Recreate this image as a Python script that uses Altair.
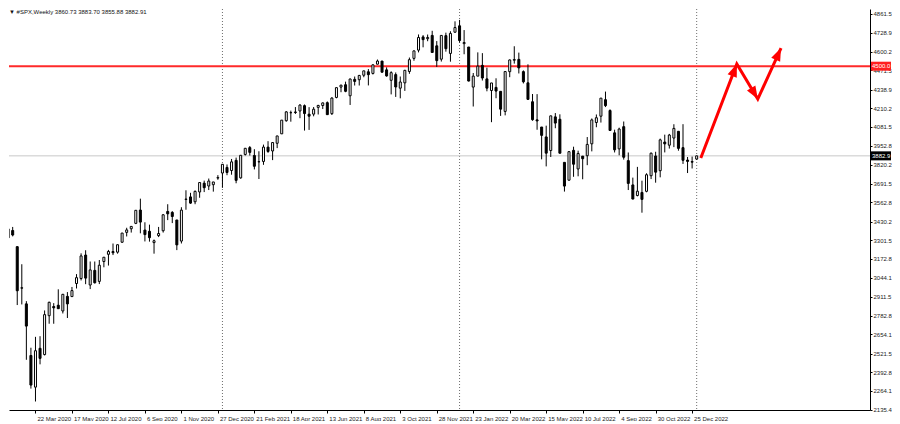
import math
import json
import altair as alt
import pandas as pd

# ---------------- data ----------------
START_WEEK = "2020-02-02"   # first weekly bar (bar index 1; index 0 = 26 Jan 2020)

OPEN = [3328.0, 3318.3, 3369.0, 3257.6, 2974.3, 2863.9, 2508.6, 2290.7, 2558.0, 2514.9,
        2782.5, 2845.6, 2854.6, 2815.0, 2915.5, 2913.9, 3004.1, 3038.8, 3199.9, 2993.8,
        3094.4, 3018.6, 3155.3, 3205.1, 3224.3, 3219.8, 3288.3, 3356.0, 3380.9, 3418.1,
        3509.7, 3371.9, 3363.6, 3285.6, 3333.9, 3367.3, 3500.0, 3493.5, 3441.4, 3296.2,
        3583.0, 3600.2, 3566.8, 3634.2, 3694.7, 3675.3, 3684.3, 3730.0,
        3764.6, 3803.1, 3781.9, 3851.7, 3731.2, 3892.6, 3939.6, 3885.6, 3842.5, 3844.4,
        3942.9, 3916.5, 3969.3, 4034.4, 4124.7, 4179.8, 4185.0, 4191.9, 4228.3, 4169.9,
        4170.2, 4216.5, 4229.3, 4248.9, 4173.4, 4284.9, 4356.5, 4372.4, 4296.4, 4409.6,
        4406.9, 4437.8, 4461.6, 4450.3, 4513.8, 4535.4, 4474.8, 4402.9, 4442.1, 4348.8,
        4385.4, 4463.7, 4553.7, 4610.6, 4701.5, 4689.3, 4712.0, 4640.2, 4548.4, 4710.3,
        4587.9, 4733.9,
        4778.1, 4655.3, 4632.2, 4356.3, 4431.8, 4505.8, 4412.6, 4332.7, 4354.2, 4327.0,
        4188.8, 4462.4, 4541.1, 4547.0, 4462.6, 4385.6, 4255.3, 4130.6, 4081.3, 4013.0,
        3919.4, 4151.1, 4134.7, 3838.1, 3715.3, 3920.8, 3792.6, 3880.9, 3883.8, 3965.7,
        4112.4, 4155.9, 4269.4, 4195.1, 4041.3, 3930.9, 4083.7, 3849.9, 3682.7, 3609.8,
        3630.9, 3638.7, 3746.1, 3881.9, 3780.7, 3977.9, 3956.2, 4005.4, 4052.0, 3939.3,
        3853.8, 3843.3,
        3860.73]
HIGH = [3340.0, 3385.1, 3393.5, 3259.8, 3136.7, 2882.6, 2562.0, 2637.0, 2641.4, 2818.6,
        2879.2, 2869.0, 2964.2, 2932.2, 2945.0, 2980.3, 3068.7, 3211.7, 3233.1, 3155.5,
        3155.5, 3165.8, 3186.0, 3235.3, 3279.3, 3272.0, 3352.0, 3387.9, 3399.5, 3509.0,
        3588.1, 3425.6, 3409.3, 3306.9, 3393.6, 3482.3, 3549.9, 3502.4, 3441.4, 3529.1,
        3645.9, 3628.5, 3644.3, 3699.2, 3712.4, 3726.7, 3703.0, 3750.0,
        3826.7, 3823.6, 3861.5, 3870.9, 3887.6, 3937.2, 3950.4, 3928.6, 3914.5, 3960.3,
        3983.9, 3978.2, 4020.6, 4129.5, 4191.3, 4194.2, 4218.8, 4238.0, 4236.4, 4218.0,
        4218.9, 4234.1, 4249.7, 4257.2, 4286.1, 4355.0, 4371.6, 4393.7, 4415.0, 4429.0,
        4440.0, 4468.0, 4480.3, 4513.0, 4545.9, 4535.4, 4492.0, 4465.0, 4457.0, 4429.0,
        4475.0, 4559.7, 4608.1, 4718.5, 4714.0, 4718.0, 4743.8, 4672.9, 4713.6, 4731.0,
        4740.7, 4808.9,
        4818.6, 4748.8, 4632.2, 4453.2, 4595.3, 4590.0, 4490.0, 4385.0, 4416.8, 4327.0,
        4465.4, 4546.0, 4637.3, 4593.5, 4471.0, 4512.9, 4308.5, 4307.7, 4081.3, 4090.7,
        4158.5, 4177.5, 4168.8, 3838.1, 3913.7, 3945.9, 3918.5, 3880.9, 4012.4, 4140.2,
        4167.7, 4280.5, 4325.3, 4203.0, 4062.9, 4076.8, 4119.3, 3906.0, 3733.0, 3806.9,
        3712.0, 3762.8, 3905.4, 3911.0, 4001.5, 4028.8, 4034.0, 4100.5, 4052.5, 4100.9,
        3875.0, 3878.0,
        3883.70]
LOW = [3322.0, 3315.5, 3328.5, 2855.8, 2860.0, 2478.9, 2280.5, 2191.9, 2447.5, 2508.9,
       2727.1, 2727.1, 2830.0, 2797.9, 2766.6, 2913.9, 2969.8, 3025.2, 2999.5, 2965.7,
       3004.0, 3000.1, 3115.7, 3127.7, 3200.0, 3209.5, 3284.5, 3327.9, 3354.7, 3413.0,
       3349.6, 3293.6, 3292.4, 3209.5, 3323.7, 3354.7, 3440.5, 3419.9, 3233.9, 3279.7,
       3511.9, 3552.8, 3549.9, 3594.4, 3633.4, 3647.5, 3636.5, 3718.0,
       3662.7, 3749.6, 3753.0, 3694.1, 3725.6, 3884.9, 3884.9, 3789.5, 3723.3, 3821.0,
       3903.6, 3853.5, 3936.0, 4034.4, 4118.0, 4118.0, 4171.0, 4142.0, 4056.9, 4061.4,
       4155.0, 4167.6, 4205.0, 4164.0, 4164.0, 4279.0, 4321.0, 4321.0, 4233.1, 4367.0,
       4367.0, 4424.0, 4367.7, 4443.0, 4513.0, 4457.0, 4428.0, 4305.9, 4288.5, 4278.9,
       4329.9, 4447.5, 4537.4, 4595.0, 4630.0, 4672.0, 4594.6, 4495.1, 4532.0, 4600.0,
       4531.1, 4733.0,
       4662.7, 4582.2, 4395.3, 4222.6, 4431.8, 4401.4, 4327.2, 4114.7, 4279.5, 4157.9,
       4161.7, 4424.3, 4517.7, 4450.0, 4381.3, 4267.6, 4124.3, 4062.5, 3858.9, 3810.3,
       3875.1, 4073.0, 3900.2, 3636.9, 3715.3, 3738.7, 3742.1, 3721.6, 3818.6, 3913.7,
       4079.8, 4112.0, 4218.7, 4057.7, 3906.2, 3886.8, 3857.0, 3647.5, 3584.1, 3604.0,
       3491.6, 3632.0, 3723.0, 3698.2, 3735.0, 3906.5, 3933.0, 3942.9, 3918.4, 3827.1,
       3764.5, 3796.0,
       3855.88]
CLOSE = [3332.0, 3380.2, 3337.8, 2954.2, 2972.4, 2711.0, 2304.9, 2541.5, 2488.7, 2789.8,
         2874.6, 2836.7, 2830.7, 2929.8, 2863.7, 2955.5, 3044.3, 3193.9, 3041.3, 3097.7,
         3009.1, 3130.0, 3185.0, 3224.7, 3215.6, 3271.1, 3351.3, 3372.9, 3397.2, 3508.0,
         3426.9, 3340.9, 3319.5, 3298.5, 3348.4, 3477.1, 3483.8, 3465.4, 3270.0, 3509.4,
         3585.2, 3557.5, 3638.4, 3699.1, 3663.5, 3709.4, 3703.1, 3733.0,
         3824.7, 3768.3, 3841.5, 3714.2, 3886.8, 3934.8, 3906.7, 3811.2, 3841.9, 3943.3,
         3913.1, 3974.5, 4019.9, 4128.8, 4185.5, 4180.2, 4181.2, 4232.6, 4173.9, 4155.9,
         4204.1, 4229.9, 4247.4, 4166.5, 4280.7, 4352.3, 4369.6, 4327.2, 4411.8, 4395.3,
         4436.5, 4468.0, 4441.7, 4509.4, 4535.4, 4458.6, 4432.9, 4455.5, 4357.0, 4391.3,
         4471.4, 4544.9, 4605.4, 4697.5, 4682.9, 4697.9, 4594.6, 4538.4, 4712.0, 4620.6,
         4725.8, 4766.2,
         4677.0, 4662.9, 4397.9, 4431.9, 4500.5, 4418.6, 4348.9, 4384.7, 4328.9, 4204.3,
         4463.1, 4543.1, 4545.9, 4488.3, 4392.6, 4271.8, 4131.9, 4123.3, 4023.9, 3901.4,
         4158.2, 4108.5, 3900.9, 3674.8, 3911.7, 3825.3, 3899.4, 3863.2, 3961.6, 4130.3,
         4145.2, 4280.2, 4228.5, 4057.7, 3924.3, 4067.4, 3873.3, 3693.2, 3585.6, 3639.7,
         3583.1, 3752.8, 3901.1, 3770.6, 3992.9, 3965.3, 4026.1, 4071.7, 3934.4, 3852.4,
         3844.8, 3839.5,
         3882.91]

TICK_LABELS = ["26 Jan 2020", "22 Mar 2020", "17 May 2020", "12 Jul 2020", "6 Sep 2020",
               "1 Nov 2020", "27 Dec 2020", "21 Feb 2021", "18 Apr 2021", "13 Jun 2021",
               "8 Aug 2021", "3 Oct 2021", "28 Nov 2021", "23 Jan 2022", "20 Mar 2022",
               "15 May 2022", "10 Jul 2022", "4 Sep 2022", "30 Oct 2022", "25 Dec 2022"]
Y_TICKS = [4861.5, 4728.9, 4600.2, 4471.5, 4338.9, 4210.2, 4081.5, 3952.8, 3820.2,
           3691.5, 3562.8, 3430.2, 3301.5, 3172.8, 3044.1, 2911.5, 2782.8, 2654.1,
           2521.5, 2392.8, 2264.1, 2135.4]

LEVEL_PRICE = 4500.0
LAST_PRICE = 3882.91
HEADER = "\u25bc #SPX,Weekly  3860.73 3883.70 3855.88 3882.91"

# forecast arrow path (bar index, price)
ARROW_WEEK = [153.9, 161.8, 166.4, 171.5]
ARROW_PRICE = [3868.0, 4515.0, 4274.0, 4625.0]

# ---------------- layout ----------------
W, H = 861, 401
PX_PER_WEEK = 4.56
XMIN = 10 / PX_PER_WEEK
XMAX = XMIN + W / PX_PER_WEEK
YMIN, YMAX = 2133.3, 4893.8
PX_PER_PT = H / (YMAX - YMIN)
FONT = "Liberation Sans"
FS = 6.0

# ---------------- frames ----------------
n = len(OPEN)
weeks = pd.date_range(START_WEEK, periods=n, freq="7D")
df = pd.DataFrame({"i": list(range(1, n + 1)), "date": weeks,
                   "o": OPEN, "h": HIGH, "l": LOW, "c": CLOSE})
df["x1"] = df["i"] - 0.22
df["x2"] = df["i"] + 0.22

# year separators: first bar of each new year
firsts = df[(df["date"].dt.month == 1) & (df["date"].dt.day <= 7)][["i"]]

XSC = alt.Scale(domain=[XMIN, XMAX], nice=False, zero=False)
YSC = alt.Scale(domain=[YMIN, YMAX], nice=False, zero=False)

label_expr = json.dumps(TICK_LABELS) + "[round(datum.value / 8)]"
XAX = alt.Axis(values=list(range(8, 153, 8)), labelExpr=label_expr, title=None,
               grid=False, domainColor="black", tickColor="black", tickSize=3,
               labelFontSize=FS, labelFont=FONT, labelColor="#222", labelAlign="left",
               labelOffset=1.5, labelPadding=2, labelOverlap=False, labelFlush=False,
               labelBaseline="top", domainWidth=1)
YAX = alt.Axis(values=Y_TICKS, format=".1f", orient="right", title=None, grid=False,
               domainColor="black", tickColor="black", tickSize=2, labelFontSize=FS,
               labelFont=FONT, labelColor="#222", labelPadding=1, labelOverlap=False,
               labelFlush=False, domainWidth=1)


def X(f):
    return alt.X(f, type="quantitative", scale=XSC, axis=XAX)


def Y(f):
    return alt.Y(f, type="quantitative", scale=YSC, axis=YAX)


base = alt.Chart(df)

separators = alt.Chart(firsts).mark_rule(color="#6e6e6e", strokeDash=[1, 2],
                                         strokeWidth=1).encode(x=X("i"))

hlines_df = pd.DataFrame({"p": [LAST_PRICE]})
last_line = alt.Chart(hlines_df).mark_rule(color="#c8c8c8", strokeWidth=1).encode(y=Y("p"))
level_df = pd.DataFrame({"p": [LEVEL_PRICE]})
level_line = alt.Chart(level_df).mark_rule(color="#ff2a2a", strokeWidth=2).encode(y=Y("p"))

wicks = base.mark_rule(color="black", strokeWidth=1, clip=True).encode(
    x=X("i"), y=Y("l"), y2="h:Q")
bodies = base.mark_rect(stroke="black", strokeWidth=1, clip=True).encode(
    x=X("x1"), x2="x2:Q", y=Y("o"), y2="c:Q",
    fill=alt.condition("datum.c >= datum.o", alt.value("white"), alt.value("black")))

# forecast arrows
arr = pd.DataFrame({"k": range(len(ARROW_WEEK)), "w": ARROW_WEEK, "p": ARROW_PRICE})
arrow_lines = alt.Chart(arr).mark_line(color="#ff0000", strokeWidth=3, strokeCap="butt").encode(
    x=X("w"), y=Y("p"), order="k:Q")
heads = []
for k in range(1, len(ARROW_WEEK)):
    dx = (ARROW_WEEK[k] - ARROW_WEEK[k - 1]) * PX_PER_WEEK
    dy = -(ARROW_PRICE[k] - ARROW_PRICE[k - 1]) * PX_PER_PT
    ang = math.degrees(math.atan2(dx, -dy)) % 360
    heads.append({"w": ARROW_WEEK[k], "p": ARROW_PRICE[k], "ang": ang})
heads_df = pd.DataFrame(heads)
arrow_heads = alt.Chart(heads_df).mark_point(
    shape="M0,0 L-0.8,2.1 L0.8,2.1 Z", filled=True, size=150, color="#ff0000",
    opacity=1, strokeWidth=0).encode(
    x=X("w"), y=Y("p"), angle=alt.Angle("ang:Q", scale=None))

# price tags on the right axis
tags = pd.DataFrame({"p": [LEVEL_PRICE, LAST_PRICE],
                     "txt": ["4500.0", "3882.9"],
                     "col": ["#ff2020", "#000000"]})
half = 4.5 / PX_PER_PT
tags["p1"] = tags["p"] - half
tags["p2"] = tags["p"] + half
tag_rect = alt.Chart(tags).mark_rect().encode(
    x=alt.value(W + 1), x2=alt.value(W + 21), y=Y("p1"), y2="p2:Q",
    fill=alt.Fill("col:N", scale=None))
tag_text = alt.Chart(tags).mark_text(align="left", baseline="middle", fontSize=FS,
                                     font=FONT, color="white").encode(
    x=alt.value(W + 2), y=Y("p"), text="txt:N")

header = alt.Chart(pd.DataFrame({"t": [HEADER]})).mark_text(
    align="left", baseline="top", fontSize=FS, font=FONT, color="#111").encode(
    x=alt.value(0), y=alt.value(0), text="t:N")

chart = alt.layer(
    separators, last_line, level_line, wicks, bodies, arrow_lines, arrow_heads,
    tag_rect, tag_text, header
).properties(width=W, height=H, padding=0, background="white").configure_view(stroke=None)

chart.save("out.html", embed_options={"renderer": "svg", "actions": False})
